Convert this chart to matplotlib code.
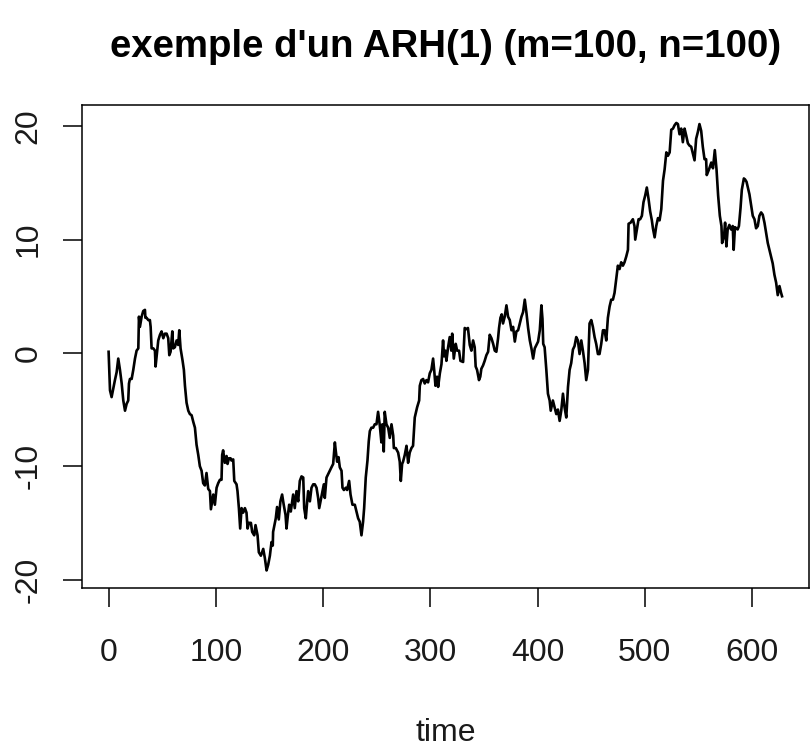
import matplotlib
matplotlib.use("Agg")
import matplotlib.pyplot as plt

# Simulated ARH(1) trajectory: time points and values
time_pts = [
    0, 1.3, 2.8, 5.9, 7.5, 9.0, 10.6, 12.2, 13.7, 15.3, 16.8, 18.3, 19.0, 19.9,
    21.5, 23.0, 24.6, 26.1, 27.7, 28.3, 29.2, 30.8, 32.3, 33.9, 34.3, 35.4, 37.0,
    38.5, 39.2, 40.1, 41.7, 43.2, 43.8, 44.8, 46.3, 47.9, 49.4, 51.0, 52.5, 54.1,
    55.6, 56.6, 57.8, 59.4, 60.3, 61.8, 63.4, 64.9, 65.9, 67.1, 69.0, 70.2, 71.2,
    72.7, 74.3, 75.8, 77.4, 79.0, 80.5, 82.0, 83.6, 85.1, 86.7, 88.2, 89.8, 91.3,
    92.9, 94.5, 95.4, 97.6, 99.1, 100.7, 102.2, 103.8, 105.3, 105.9, 106.8, 108.4,
    110.0, 110.9, 112.2, 113.7, 114.6, 116.2, 117.2, 119.3, 120.2, 121.5, 122.7,
    124.0, 125.5, 127.1, 128.6, 129.6, 130.8, 132.7, 133.9, 135.8, 137.0, 138.9,
    140.1, 142.0, 144.2, 145.7, 147.3, 148.8, 150.4, 151.9, 153.1, 153.4, 154.6,
    155.9, 157.1, 158.7, 160.2, 161.8, 163.3, 165.0, 165.9, 167.1, 168.4, 169.9,
    172.1, 173.6, 175.2, 176.8, 178.3, 179.9, 181.5, 182.4, 183.9, 185.2, 186.1,
    187.7, 189.2, 190.8, 192.3, 193.9, 195.4, 196.4, 197.6, 198.9, 200.7, 201.6,
    203.2, 204.7, 206.3, 207.8, 209.4, 211.0, 211.9, 213.1, 214.4, 215.6, 217.2,
    218.1, 219.4, 221.2, 222.4, 224.3, 225.6, 227.4, 229.6, 231.1, 232.7, 234.2,
    235.8, 237.3, 238.3, 239.8, 241.4, 242.6, 243.6, 245.1, 246.7, 248.2, 249.8,
    251.3, 252.9, 254.4, 255.3, 256.6, 257.5, 259.1, 260.7, 262.2, 263.8, 265.4,
    266.0, 267.8, 270.0, 271.5, 272.5, 273.7, 274.6, 276.2, 277.8, 279.3, 280.8,
    282.4, 283.9, 285.5, 287.7, 289.6, 290.2, 291.7, 293.3, 294.8, 296.4, 297.9,
    299.5, 301.0, 302.6, 303.6, 304.8, 306.3, 307.3, 308.9, 310.4, 311.9, 312.8,
    314.1, 315.0, 316.6, 318.1, 319.6, 320.4, 321.9, 323.7, 325.0, 326.8, 328.1,
    330.6, 332.1, 333.6, 335.1, 336.8, 338.3, 339.9, 341.4, 342.3, 343.6, 345.4,
    346.6, 347.6, 349.2, 350.7, 352.3, 353.9, 355.4, 357.0, 358.6, 360.1, 361.6,
    363.2, 364.1, 365.4, 366.6, 367.8, 369.4, 371.0, 372.5, 374.1, 375.7, 377.2,
    378.8, 380.3, 381.9, 383.5, 385.0, 386.5, 388.1, 389.7, 391.2, 392.8, 394.3,
    395.9, 397.4, 399.0, 400.5, 402.1, 403.6, 404.6, 405.3, 406.6, 408.2, 409.7,
    411.3, 412.3, 414.3, 415.9, 417.5, 419.0, 420.6, 422.1, 423.7, 425.2, 426.8,
    428.4, 429.9, 431.4, 433.0, 434.5, 436.1, 437.6, 439.2, 440.8, 442.3, 443.9,
    445.4, 447.0, 448.5, 450.1, 451.6, 453.2, 454.7, 456.3, 457.8, 459.4, 461.0,
    462.5, 464.1, 465.6, 467.2, 468.7, 470.3, 471.8, 473.4, 474.9, 476.5, 478.0,
    479.6, 481.1, 482.7, 484.3, 484.9, 486.8, 488.9, 490.4, 491.1, 492.6, 494.2,
    495.7, 497.3, 498.8, 500.4, 501.9, 503.5, 505.0, 506.6, 507.6, 509.2, 510.7,
    512.3, 513.8, 515.4, 517.0, 518.5, 520.1, 521.6, 523.2, 524.7, 526.3, 527.8,
    529.4, 530.9, 532.4, 534.0, 535.5, 537.1, 538.6, 540.2, 541.7, 543.3, 544.8,
    546.4, 547.9, 549.5, 551.0, 552.6, 554.1, 555.7, 557.2, 557.8, 559.9, 562.0,
    563.6, 565.3, 566.9, 568.4, 570.0, 571.5, 572.1, 573.9, 574.9, 576.1, 577.3,
    578.9, 580.4, 582.0, 582.9, 584.1, 586.6, 587.8, 589.3, 590.5, 592.4, 593.6,
    594.9, 596.1, 597.6, 599.2, 600.7, 602.3, 603.8, 605.4, 606.9, 608.5, 610.0,
    611.6, 613.1, 614.7, 616.2, 617.8, 619.3, 620.9, 622.5, 624.0, 625.6, 627.1,
    628.0,
]

values = [
    0.1, -3.3, -3.9, -2.4, -1.7, -0.5, -1.5, -2.7, -4.2, -5.1, -4.5, -4.2, -2.7,
    -2.3, -2.3, -1.5, -0.5, 0.2, 0.4, 3.2, 2.3, 3.2, 3.7, 3.8, 3.1, 3.1, 2.9,
    2.9, 2.3, 0.4, 0.4, 0.2, -1.2, -0.3, 1.1, 1.6, 1.9, 1.3, 1.7, 1.7, 1.3, -0.2,
    0.1, 1.9, 0.4, 0.5, 1.1, 0.7, 2.0, 0.4, -0.7, -1.5, -2.9, -4.4, -5.1, -5.4,
    -5.5, -6.1, -6.6, -8.1, -9.0, -10.0, -10.4, -11.5, -11.7, -10.6, -12.0, -12.2,
    -13.8, -12.5, -13.4, -11.9, -11.5, -11.2, -11.2, -9.0, -8.6, -9.7, -9.1, -9.8,
    -9.3, -9.3, -9.5, -9.4, -11.3, -11.6, -12.2, -13.7, -15.5, -13.7, -14.1,
    -13.7, -14.1, -15.5, -15.0, -15.0, -15.8, -16.1, -15.2, -16.1, -17.6, -17.9,
    -17.3, -18.1, -19.2, -18.7, -17.9, -16.7, -17.0, -15.8, -15.2, -14.6, -13.6,
    -14.7, -13.1, -12.5, -13.4, -14.3, -15.5, -14.4, -13.4, -14.0, -12.5, -13.7,
    -12.2, -13.1, -11.3, -10.9, -11.0, -13.7, -14.6, -13.1, -12.2, -13.1, -11.9,
    -11.6, -11.6, -11.9, -12.8, -13.7, -13.1, -12.5, -11.6, -12.8, -11.0, -10.7,
    -10.4, -10.1, -9.8, -7.9, -8.7, -9.6, -9.2, -10.1, -10.4, -11.9, -12.1,
    -11.9, -12.1, -11.3, -12.5, -13.4, -13.4, -14.0, -14.6, -14.9, -16.1, -14.9,
    -13.7, -11.0, -9.5, -7.8, -6.9, -6.6, -6.6, -6.3, -6.3, -5.2, -6.4, -7.9,
    -6.3, -8.7, -5.2, -6.3, -6.6, -7.5, -6.3, -7.3, -8.4, -8.4, -8.8, -9.6,
    -11.3, -9.8, -9.6, -9.0, -8.2, -9.7, -8.8, -8.4, -8.2, -5.7, -4.8, -4.2,
    -2.9, -2.4, -2.3, -2.7, -2.4, -2.6, -1.8, -1.5, -0.5, -1.5, -2.9, -2.1, -3.0,
    -1.8, -1.0, 1.1, -0.3, 0.2, -0.7, 0.5, 1.4, 0.2, 1.7, -0.5, 0.8, 0.2, 0.2,
    -0.7, -0.8, 2.2, 2.1, 2.2, 0.7, 0.2, 1.1, 0.5, -1.2, -1.5, -2.4, -2.1, -1.4,
    -1.1, -0.7, -0.2, 0.1, 1.6, 1.3, 0.8, 0.2, 0.1, 1.3, 2.2, 3.1, 3.4, 2.6, 3.2,
    4.2, 3.2, 2.9, 2.0, 2.3, 1.0, 1.9, 2.0, 2.6, 3.2, 3.6, 4.7, 3.5, 2.2, 1.1,
    0.4, -0.5, 0.4, 0.7, 1.0, 2.0, 4.2, 3.0, 0.8, 0.5, -1.5, -3.6, -4.2, -5.1,
    -4.2, -4.8, -5.4, -5.0, -6.0, -5.1, -3.6, -4.8, -5.7, -3.0, -1.5, -0.9, 0.3,
    0.6, 1.4, 1.1, -0.1, 1.1, 0.2, -0.9, -2.4, -1.5, 2.6, 2.9, 2.3, 1.4, 0.8,
    -0.1, -0.1, 0.8, 2.0, 2.0, 1.1, 3.1, 4.1, 4.7, 4.7, 5.3, 6.5, 7.7, 7.4, 8.0,
    7.7, 8.0, 8.5, 9.1, 11.4, 11.5, 11.8, 11.2, 10.0, 10.9, 11.8, 11.8, 12.1,
    13.3, 13.9, 14.6, 13.6, 12.5, 11.7, 11.0, 10.2, 11.2, 11.9, 11.7, 12.7, 15.2,
    16.2, 17.7, 17.4, 17.7, 19.7, 19.8, 20.1, 20.3, 20.2, 19.3, 19.8, 18.6, 19.8,
    19.2, 18.5, 18.3, 18.2, 17.6, 17.0, 18.9, 19.5, 20.2, 19.6, 18.2, 17.1, 17.1,
    15.7, 16.2, 16.8, 16.3, 17.9, 16.2, 13.9, 12.1, 11.2, 9.7, 10.3, 11.5, 9.4,
    10.9, 11.3, 10.9, 11.2, 9.1, 11.1, 10.9, 11.2, 12.8, 14.4, 15.4, 15.3, 15.1,
    14.6, 14.0, 13.0, 12.1, 11.8, 11.0, 11.2, 12.1, 12.4, 12.2, 11.5, 10.6, 9.7,
    9.1, 8.5, 7.9, 6.9, 6.2, 5.1, 5.9, 5.3, 5.0,
]

x_ticks = [0, 100, 200, 300, 400, 500, 600]
y_ticks = [-20, -10, 0, 10, 20]

plt.rcParams["font.family"] = ["Liberation Sans", "DejaVu Sans"]

fig = plt.figure(figsize=(8.11, 7.47), dpi=100)
ax = fig.add_axes([0.1007, 0.2124, 0.8968, 0.6470])

ax.plot(time_pts, values, color="black", lw=1.9)

x_span = max(time_pts) - min(time_pts)
y_span = max(values) - min(values)
ax.set_xlim(min(time_pts) - 0.04 * x_span, max(time_pts) + 0.04 * x_span)
ax.set_ylim(min(values) - 0.04 * y_span, max(values) + 0.04 * y_span)

ax.set_xticks(x_ticks)
ax.set_yticks(y_ticks)
ax.set_xticklabels([str(v) for v in x_ticks])
ax.set_yticklabels([str(v) for v in y_ticks], rotation=90, va="center")

for s in ax.spines.values():
    s.set_linewidth(1.1)
    s.set_color("black")

ax.tick_params(axis="both", length=13.5, width=1.1, color="black",
               labelsize=23, labelcolor="#1a1a1a")
ax.tick_params(axis="x", pad=22)
ax.tick_params(axis="y", pad=14)

ax.set_xlabel("time", fontsize=23, color="#1a1a1a")
ax.xaxis.set_label_coords(0.5, -0.268)

ax.set_title("exemple d'un ARH(1) (m=100, n=100)", fontsize=27.6,
             fontweight="bold", y=1.10, pad=0)

fig.savefig("out.png", dpi=100)
